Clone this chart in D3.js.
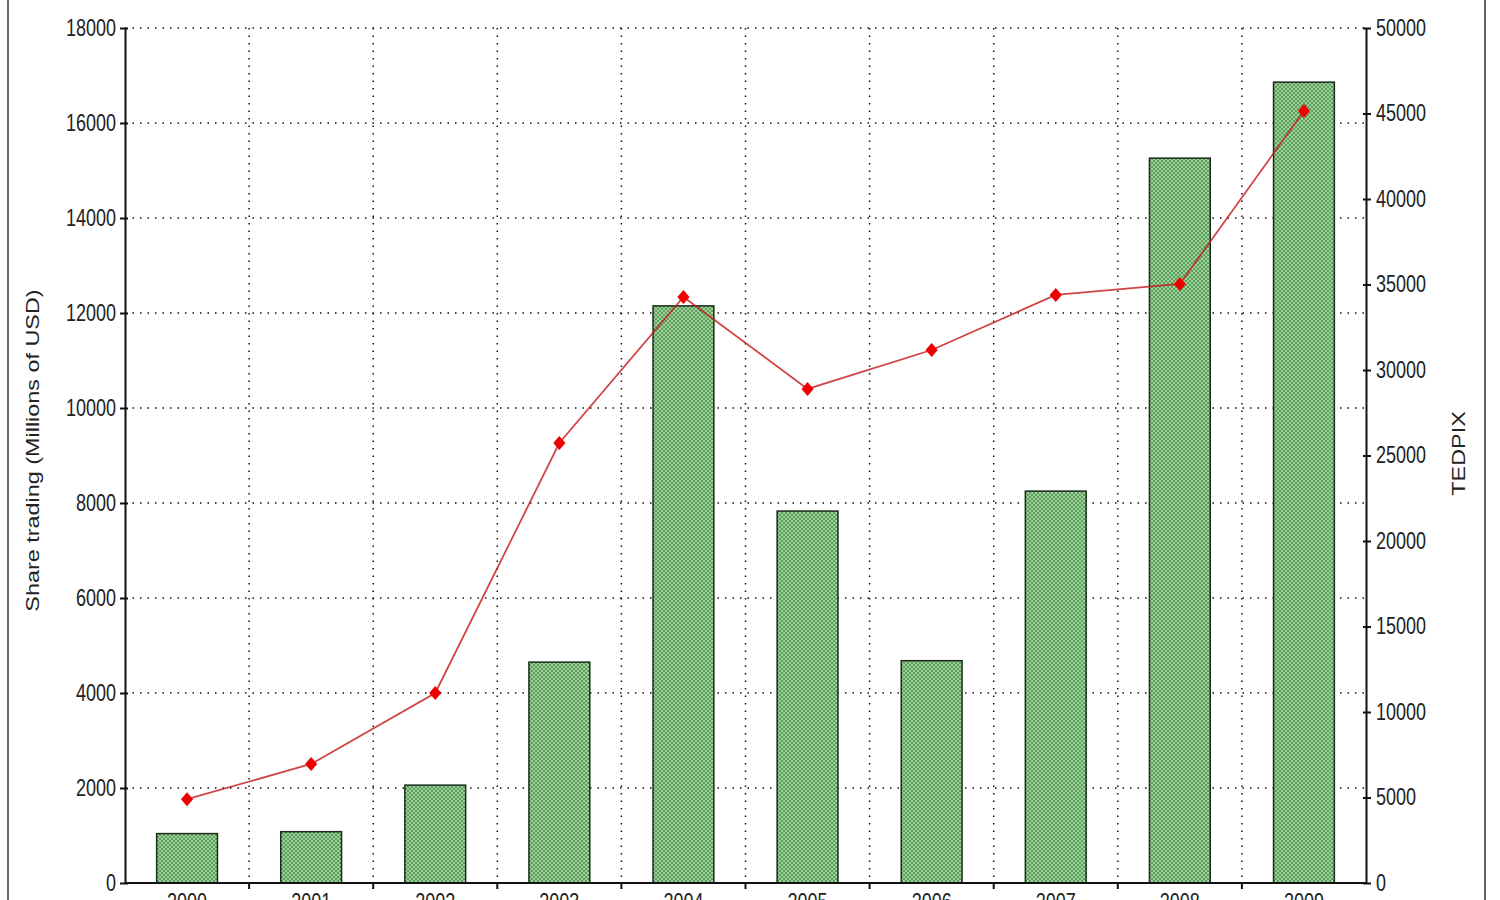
<!DOCTYPE html>
<html>
<head>
<meta charset="utf-8">
<script src="https://cdn.jsdelivr.net/npm/d3@7"></script>
<style>
  body { margin: 0; background: #fff; }
  text { font-family: "Liberation Sans", Arial, sans-serif; fill: #222; }
</style>
</head>
<body>
<div id="vis-1"></div>
<script>
const years = ["2000", "2001", "2002", "2003", "2004", "2005", "2006", "2007", "2008", "2009"];
const shareTrading = [1040, 1080, 2060, 4650, 12150, 7830, 4680, 8250, 15260, 16860];
const tedpix = [4900, 6960, 11110, 25730, 34270, 28890, 31170, 34390, 35030, 45150];
const leftTicks = [0, 2000, 4000, 6000, 8000, 10000, 12000, 14000, 16000, 18000];
const rightTicks = [0, 5000, 10000, 15000, 20000, 25000, 30000, 35000, 40000, 45000, 50000];

const WIDTH = 1500;
const HEIGHT = 900;
const margin = { top: 28, bottom: 17, left: 125, right: 134 };
const WIDTHVIS = WIDTH - margin.left - margin.right;
const HEIGHTVIS = HEIGHT - margin.top - margin.bottom;
// the picture is a bit stretched vertically, text too
const STRETCH = 1.3;

const SVG = d3.select("#vis-1").append("svg")
  .attr("width", WIDTH).attr("height", HEIGHT);

// dithered green fill
const pat = SVG.append("defs").append("pattern")
  .attr("id", "dither").attr("width", 4).attr("height", 4)
  .attr("patternUnits", "userSpaceOnUse");
pat.append("rect").attr("width", 4).attr("height", 4).attr("fill", "#9fd29f");
pat.append("rect").attr("width", 2).attr("height", 2).attr("fill", "#5a9e5a");
pat.append("rect").attr("x", 2).attr("y", 2).attr("width", 2).attr("height", 2).attr("fill", "#5a9e5a");

// outer frame
SVG.append("line").attr("x1", 8).attr("x2", 8).attr("y1", 0).attr("y2", HEIGHT)
  .attr("stroke", "#333").attr("stroke-width", 1.5);
SVG.append("line").attr("x1", 1485).attr("x2", 1485).attr("y1", 0).attr("y2", HEIGHT)
  .attr("stroke", "#333").attr("stroke-width", 1.5);

const g = SVG.append("g").attr("transform", `translate(${margin.left}, ${margin.top})`);

const escalaX = d3.scaleBand().domain(years).range([0, WIDTHVIS]);
const escalaY = d3.scaleLinear().domain([0, 18000]).range([HEIGHTVIS, 0]);
const escalaY2 = d3.scaleLinear().domain([0, 50000]).range([HEIGHTVIS, 0]);

// grid
g.append("g").selectAll("line").data(leftTicks.slice(1)).join("line")
  .attr("x1", 0).attr("x2", WIDTHVIS)
  .attr("y1", (d) => escalaY(d)).attr("y2", (d) => escalaY(d))
  .attr("stroke", "#111").attr("stroke-width", 1.5)
  .attr("stroke-dasharray", "1.5 6");
g.append("g").selectAll("line").data(years.slice(1)).join("line")
  .attr("x1", (d) => escalaX(d)).attr("x2", (d) => escalaX(d))
  .attr("y1", 0).attr("y2", HEIGHTVIS)
  .attr("stroke", "#111").attr("stroke-width", 1.5)
  .attr("stroke-dasharray", "1.5 6");

// bars
const bw = escalaX.bandwidth() * 0.49;
g.append("g").selectAll("rect").data(shareTrading).join("rect")
  .attr("x", (d, i) => escalaX(years[i]) + (escalaX.bandwidth() - bw) / 2)
  .attr("width", bw)
  .attr("y", (d) => escalaY(d))
  .attr("height", (d) => HEIGHTVIS - escalaY(d))
  .attr("fill", "url(#dither)")
  .attr("stroke", "#1a2a1a").attr("stroke-width", 1.5);

// line
const linea = d3.line()
  .x((d, i) => escalaX(years[i]) + escalaX.bandwidth() / 2)
  .y((d) => escalaY2(d));
g.append("path").datum(tedpix)
  .attr("d", linea)
  .attr("fill", "none")
  .attr("stroke", "#c41818").attr("stroke-opacity", 0.8).attr("stroke-width", 1.8);
g.append("g").selectAll("path").data(tedpix).join("path")
  .attr("d", d3.symbol(d3.symbolDiamond2, 95))
  .attr("transform", (d, i) => `translate(${escalaX(years[i]) + escalaX.bandwidth() / 2}, ${escalaY2(d)}) scale(1, 1.15)`)
  .attr("fill", "#ee0000");

// axes
const fmt = d3.format("d");
const ejeY = d3.axisLeft(escalaY).tickValues(leftTicks).tickFormat(fmt).tickSizeInner(5).tickSizeOuter(0).tickPadding(4);
const ejeY2 = d3.axisRight(escalaY2).tickValues(rightTicks).tickFormat(fmt).tickSizeInner(5).tickSizeOuter(0).tickPadding(5);
const ejeX = d3.axisBottom(escalaX).tickSize(0).tickPadding(8);

function estilo(sel) {
  sel.select(".domain").attr("stroke", "#111").attr("stroke-width", 2);
  sel.selectAll(".tick line").attr("stroke", "#111").attr("stroke-width", 2);
  sel.selectAll("text").attr("font-size", 18).attr("fill", "#222")
    .attr("font-family", "'Liberation Sans', Arial, sans-serif")
    .attr("transform", `scale(1, ${STRETCH})`);
}

const gy = g.append("g").call(ejeY).call(estilo);
gy.selectAll(".tick").append("line").attr("x2", 3).attr("stroke", "#111").attr("stroke-width", 2);

const gy2 = g.append("g").attr("transform", `translate(${WIDTHVIS}, 0)`).call(ejeY2).call(estilo);
gy2.selectAll(".tick").append("line").attr("x2", -3).attr("stroke", "#111").attr("stroke-width", 2);

const gx = g.append("g").attr("transform", `translate(0, ${HEIGHTVIS})`).call(ejeX).call(estilo);
gx.selectAll(".domain").attr("d", `M0,0H${WIDTHVIS}`);
// category boundary ticks
gx.append("g").selectAll("line").data(years.slice(1)).join("line")
  .attr("x1", (d) => escalaX(d)).attr("x2", (d) => escalaX(d))
  .attr("y1", 0).attr("y2", 6)
  .attr("stroke", "#111").attr("stroke-width", 2);

// axis titles
SVG.append("text")
  .attr("transform", `translate(39, ${margin.top + HEIGHTVIS / 2 - 5}) scale(1, ${STRETCH}) rotate(-90)`)
  .attr("text-anchor", "middle")
  .attr("font-size", 18)
  .text("Share trading (Millions of USD)");
SVG.append("text")
  .attr("transform", `translate(1465, ${margin.top + HEIGHTVIS / 2 - 2}) scale(1, ${STRETCH}) rotate(-90)`)
  .attr("text-anchor", "middle")
  .attr("font-size", 18)
  .text("TEDPIX");
</script>
</body>
</html>
